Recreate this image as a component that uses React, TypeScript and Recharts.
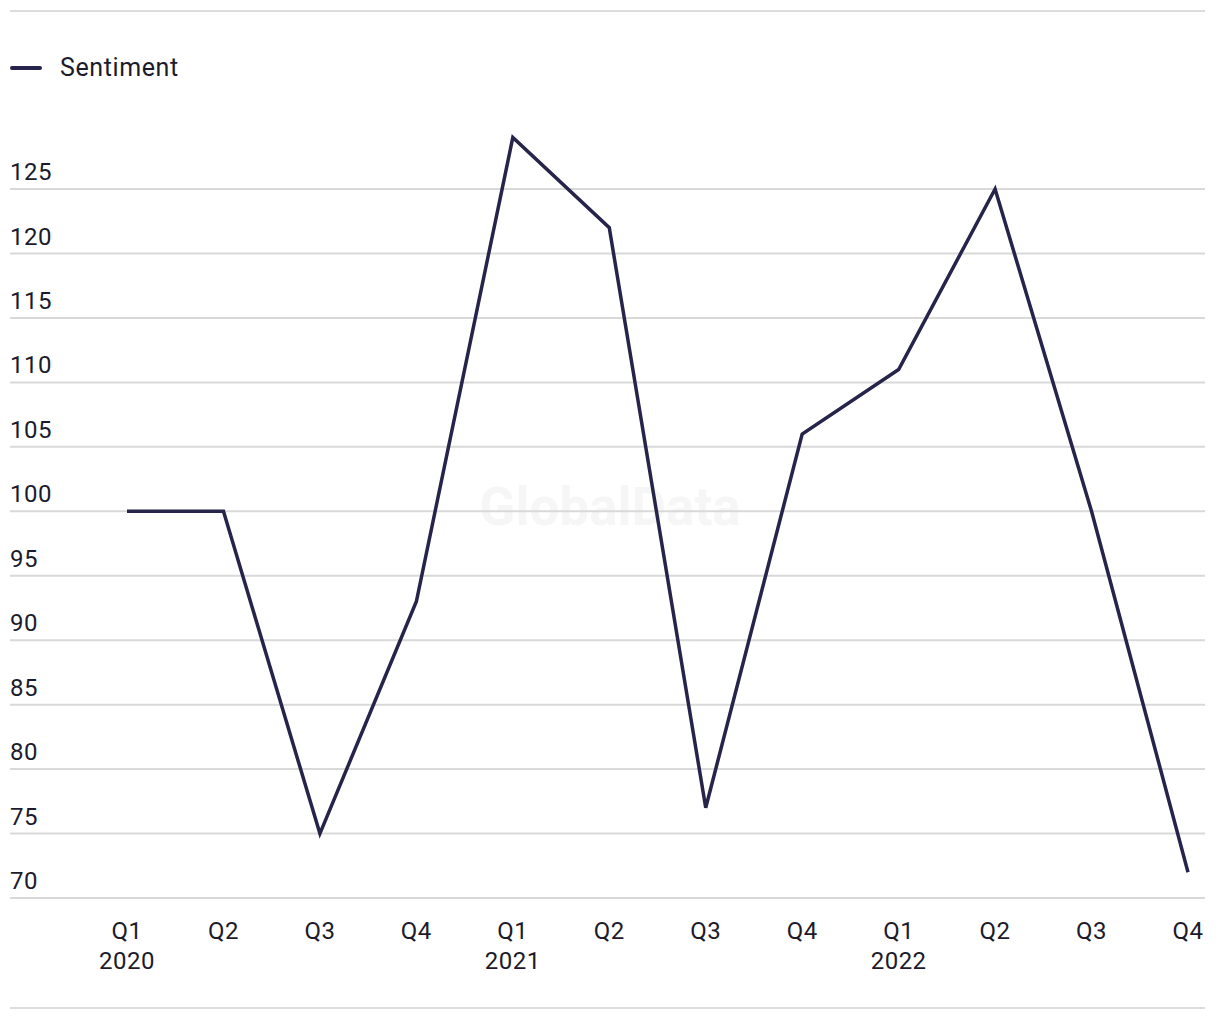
import { LineChart, Line, XAxis, YAxis, CartesianGrid } from "recharts";

const quarters = ["Q1", "Q2", "Q3", "Q4", "Q1", "Q2", "Q3", "Q4", "Q1", "Q2", "Q3", "Q4"];
const years = ["2020", "", "", "", "2021", "", "", "", "2022", "", "", ""];
const sentiment = [100, 100, 75, 93, 129, 122, 77, 106, 111, 125, 100, 72];
const yTicks = [70, 75, 80, 85, 90, 95, 100, 105, 110, 115, 120, 125];

const data = quarters.map((q, i) => ({ key: `${q}-${i}`, q, year: years[i], sentiment: sentiment[i] }));

const FONT = "Roboto, 'Liberation Sans', sans-serif";
const TEXT = "#1c1b2b";
const LINE = "#26244a";

const YTick = (props: any) => {
  const { y, payload } = props;
  return (
    <text x={10} y={y - 9} fill={TEXT} fontSize={24} fontFamily={FONT} textAnchor="start" letterSpacing={0.5}>
      {payload.value}
    </text>
  );
};

const XTick = (props: any) => {
  const { x, y, payload, index } = props;
  const d = data[index];
  return (
    <g>
      <text x={x} y={y + 33} fill={TEXT} fontSize={24} fontFamily={FONT} textAnchor="middle" letterSpacing={0.5}>
        {d ? d.q : payload.value}
      </text>
      {d && d.year && (
        <text x={x} y={y + 63} fill={TEXT} fontSize={24} fontFamily={FONT} textAnchor="middle" letterSpacing={0.5}>
          {d.year}
        </text>
      )}
    </g>
  );
};

export default function App() {
  return (
    <div style={{ position: "absolute", left: 0, top: 0, width: 1220, height: 1020, background: "#fff", fontFamily: FONT }}>
      <div style={{ position: "absolute", left: 10, top: 10, width: 1195, height: 2, background: "#dcdcdc" }} />
      <div style={{ position: "absolute", left: 10, top: 1007, width: 1195, height: 2, background: "#dcdcdc" }} />
      <div style={{ position: "absolute", left: 10, top: 53, display: "flex", alignItems: "center" }}>
        <div style={{ width: 32, height: 4, borderRadius: 2, background: LINE }} />
        <span style={{ marginLeft: 18, fontSize: 25, letterSpacing: 0.6, color: TEXT }}>Sentiment</span>
      </div>
      <div
        style={{
          position: "absolute",
          left: 0,
          width: 1220,
          top: 476,
          textAlign: "center",
          fontSize: 53,
          fontWeight: 700,
          color: "#f6f6f6",
        }}
      >
        GlobalData
      </div>
      <div style={{ position: "absolute", left: 0, top: 0 }}>
        <LineChart width={1220} height={1000} data={data} margin={{ top: 124.6, right: 15, bottom: 0, left: -40 }}>
          <CartesianGrid horizontal vertical={false} stroke="#d9d9d9" strokeWidth={2} horizontalValues={yTicks} />
          <XAxis
            dataKey="key"
            axisLine={false}
            tickLine={false}
            height={102}
            interval={0}
            padding={{ left: 117, right: 17 }}
            tick={<XTick />}
          />
          <YAxis
            width={50}
            domain={[70, 130]}
            ticks={yTicks}
            interval={0}
            axisLine={false}
            tickLine={false}
            tick={<YTick />}
          />
          <Line
            type="linear"
            dataKey="sentiment"
            stroke={LINE}
            strokeWidth={3.5}
            dot={false}
            isAnimationActive={false}
          />
        </LineChart>
      </div>
    </div>
  );
}
